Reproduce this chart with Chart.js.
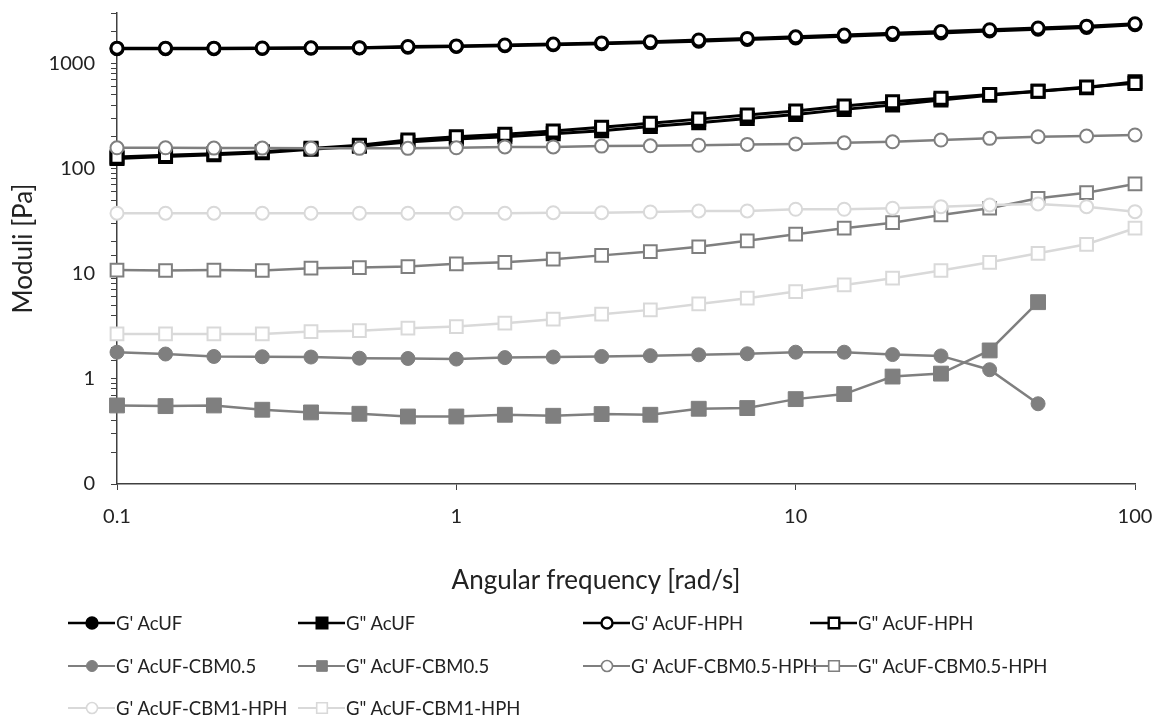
<!DOCTYPE html>
<html>
<head>
<meta charset="utf-8">
<script src="https://cdn.jsdelivr.net/npm/chart.js@4.4.0/dist/chart.umd.min.js"></script>
<style>
  body { margin: 0; background: #fff; font-family: Lato, sans-serif; color: #222; }
  #wrap { position: relative; width: 1158px; height: 717px; overflow: hidden; }
  #chart { position: absolute; left: 0; top: 0; }
  #xtitle { position: absolute; left: 596px; top: 579px; transform: translate(-50%, -50%);
            font-size: 26px; white-space: nowrap; }
  .item { position: absolute; height: 22px; display: flex; align-items: center;
          transform: translateY(-50%); font-size: 18.5px; white-space: nowrap; }
  .item canvas { margin-right: 1px; }
</style>
</head>
<body>
<div id="wrap">
  <canvas id="chart" width="1158" height="717"></canvas>
  <div id="xtitle">Angular frequency [rad/s]</div>
  <div id="legend"></div>
</div>
<script>
// angular frequency sweep, 7 points per decade
const freq = [0.1, 0.139, 0.193, 0.268, 0.373, 0.518, 0.72, 1, 1.39, 1.93, 2.68,
              3.73, 5.18, 7.2, 10, 13.9, 19.3, 26.8, 37.3, 51.8, 72, 100];

const gpAcUF = [1370, 1370, 1375, 1380, 1385, 1395, 1420, 1440, 1465, 1495, 1530,
                1570, 1620, 1680, 1740, 1800, 1870, 1940, 2020, 2100, 2190, 2320];
const gppAcUF = [124, 130, 135, 141, 152, 162, 178, 190, 200, 213, 228,
                 250, 272, 298, 325, 364, 400, 447, 495, 541, 585, 666];
const gpAcUFHPH = [1390, 1390, 1390, 1395, 1400, 1405, 1440, 1460, 1490, 1520, 1560,
                   1600, 1660, 1720, 1780, 1850, 1930, 2000, 2080, 2160, 2250, 2370];
const gppAcUFHPH = [128, 133, 138, 144, 155, 166, 186, 200, 211, 227, 246,
                    268, 294, 321, 351, 391, 430, 464, 505, 541, 595, 643];
// CBM0.5 without HPH stops at 51.8 rad/s
const gpCBM05 = [1.79, 1.72, 1.63, 1.62, 1.61, 1.57, 1.56, 1.54, 1.59, 1.61, 1.63,
                 1.66, 1.69, 1.73, 1.79, 1.79, 1.70, 1.65, 1.22, 0.579];
const gppCBM05 = [0.558, 0.55, 0.558, 0.508, 0.479, 0.465, 0.438, 0.438, 0.455, 0.445, 0.462,
                  0.455, 0.519, 0.527, 0.641, 0.716, 1.05, 1.12, 1.86, 5.35];
const gpCBM05HPH = [157, 157, 156, 156, 155, 155, 155, 157, 160, 160, 163,
                    164, 166, 169, 171, 175, 179, 186, 193, 200, 203, 208];
const gppCBM05HPH = [10.8, 10.7, 10.8, 10.7, 11.25, 11.4, 11.65, 12.4, 12.8, 13.7, 14.9,
                     16.2, 18.0, 20.5, 23.7, 27.0, 30.5, 36.1, 41.8, 52, 58.8, 71.1];
const gpCBM1HPH = [37.5, 37.5, 37.5, 37.5, 37.5, 37.5, 37.5, 37.5, 37.5, 37.9, 37.9,
                   38.5, 39.4, 39.4, 40.9, 40.9, 41.8, 43.3, 44.9, 45.9, 43.3, 38.8];
const gppCBM1HPH = [2.67, 2.67, 2.67, 2.67, 2.81, 2.87, 3.03, 3.14, 3.38, 3.69, 4.11,
                    4.52, 5.15, 5.84, 6.75, 7.81, 9.04, 10.7, 12.8, 15.6, 19.0, 27.0];

const xTickValues = [0.1, 1, 10, 100];
const xTickLabels = ['0.1', '1', '10', '100'];
const yTickValues = [0.1, 1, 10, 100, 1000];
const yTickLabels = ['0', '1', '10', '100', '1000'];

const BLACK = '#000000', GREY = '#7f7f7f', LIGHT = '#d9d9d9';

function makeSet(label, values, color, shape, filled, lineWidth, radius, markerLine) {
  return {
    label: label,
    data: values.map((v, i) => ({ x: freq[i], y: v })),
    borderColor: color,
    borderWidth: lineWidth,
    pointStyle: shape,
    pointRadius: radius,
    pointBorderWidth: markerLine,
    pointBorderColor: color,
    pointBackgroundColor: filled ? color : '#ffffff',
    tension: 0,
    clip: false
  };
}

const datasets = [
  makeSet("G' AcUF", gpAcUF, BLACK, 'circle', true, 3, 6, 3),
  makeSet('G" AcUF', gppAcUF, BLACK, 'rect', true, 3, 8.5, 3),
  makeSet("G' AcUF-HPH", gpAcUFHPH, BLACK, 'circle', false, 3, 6, 3),
  makeSet('G" AcUF-HPH', gppAcUFHPH, BLACK, 'rect', false, 3, 8.5, 3),
  makeSet("G' AcUF-CBM0.5", gpCBM05, GREY, 'circle', true, 2.5, 7, 1),
  makeSet('G" AcUF-CBM0.5', gppCBM05, GREY, 'rect', true, 2.5, 10.5, 1),
  makeSet("G' AcUF-CBM0.5-HPH", gpCBM05HPH, GREY, 'circle', false, 2.5, 6.5, 2),
  makeSet('G" AcUF-CBM0.5-HPH', gppCBM05HPH, GREY, 'rect', false, 2.5, 9, 2),
  makeSet("G' AcUF-CBM1-HPH", gpCBM1HPH, LIGHT, 'circle', false, 2.5, 6.5, 2),
  makeSet('G" AcUF-CBM1-HPH', gppCBM1HPH, LIGHT, 'rect', false, 2.5, 9, 2)
];
// later series are painted over earlier ones
datasets.forEach((ds, i) => { ds.order = datasets.length - i; });

// legend: 4 columns, filled row by row
const legendCols = [68, 298, 583, 810];
const legendRows = [623, 666, 708];

function buildLegend() {
  const box = document.getElementById('legend');
  datasets.forEach((ds, i) => {
    const item = document.createElement('div');
    item.className = 'item';
    item.style.left = legendCols[i % 4] + 'px';
    item.style.top = legendRows[Math.floor(i / 4)] + 'px';
    const c = document.createElement('canvas');
    c.width = 47;
    c.height = 22;
    const ctx = c.getContext('2d');
    ctx.strokeStyle = ds.borderColor;
    ctx.lineWidth = ds.borderWidth === 3 ? 2.7 : 2.2;
    ctx.beginPath();
    ctx.moveTo(0, 11);
    ctx.lineTo(47, 11);
    ctx.stroke();
    ctx.fillStyle = ds.pointBackgroundColor;
    ctx.lineWidth = Math.max(ds.pointBorderWidth * 0.8, 1);
    Chart.helpers.drawPoint(ctx, {
      pointStyle: ds.pointStyle,
      rotation: 0,
      radius: ds.pointStyle === 'rect' ? 7.5 : 5.5,
      borderWidth: ctx.lineWidth
    }, 24, 11);
    item.appendChild(c);
    const span = document.createElement('span');
    span.textContent = ds.label;
    item.appendChild(span);
    box.appendChild(item);
  });
}

function draw() {
  Chart.defaults.font.family = 'Lato';
  Chart.defaults.color = '#222';

  new Chart(document.getElementById('chart'), {
    type: 'line',
    data: { datasets: datasets },
    options: {
      responsive: false,
      animation: false,
      devicePixelRatio: 1,
      events: [],
      layout: { padding: { top: 13, right: 23, bottom: 0, left: 0 } },
      plugins: { legend: { display: false }, tooltip: { enabled: false } },
      scales: {
        x: {
          type: 'logarithmic',
          min: 0.1,
          max: 100,
          afterFit: scale => {
            scale.height = 233;
            scale.paddingLeft = 0;
            scale.paddingRight = 0;
          },
          afterBuildTicks: scale => {
            scale.ticks = xTickValues.map(v => ({ value: v }));
          },
          grid: { drawOnChartArea: false, drawTicks: true, tickLength: 6, color: '#404040' },
          border: { display: true, color: '#404040', width: 1.5 },
          ticks: {
            autoSkip: false,
            maxRotation: 0,
            padding: 15,
            font: { size: 20 },
            callback: v => {
              const k = xTickValues.indexOf(v);
              return k >= 0 ? xTickLabels[k] : '';
            }
          }
        },
        y: {
          type: 'logarithmic',
          min: 0.1,
          max: 3000,
          afterFit: scale => {
            scale.width = 117;
            scale.paddingTop = 0;
            scale.paddingBottom = 0;
          },
          grid: { drawOnChartArea: false, drawTicks: true, tickLength: 6, color: '#404040' },
          border: { display: true, color: '#404040', width: 1.5 },
          ticks: {
            autoSkip: false,
            padding: 16,
            font: { size: 20 },
            callback: v => {
              const k = yTickValues.findIndex(t => Math.abs(t - v) < t * 1e-6);
              return k >= 0 ? yTickLabels[k] : '';
            }
          },
          title: {
            display: true,
            text: 'Moduli [Pa]',
            font: { size: 26 },
            padding: { top: 8, bottom: 0 }
          }
        }
      }
    }
  });
  buildLegend();
}

document.fonts.load('20px Lato').then(draw, draw);
</script>
</body>
</html>
